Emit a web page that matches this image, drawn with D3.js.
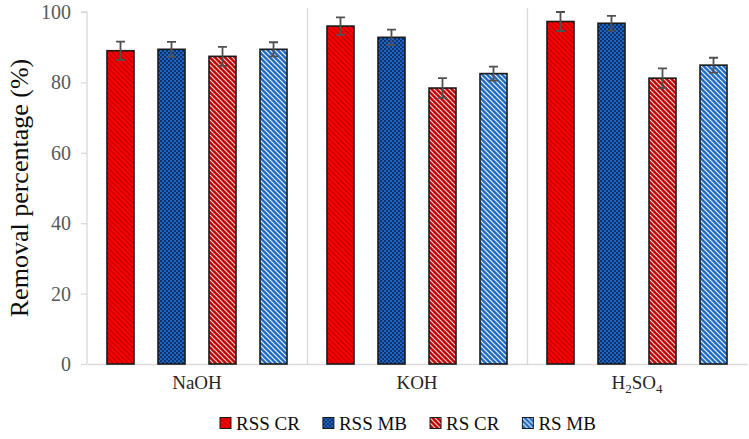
<!DOCTYPE html>
<html>
<head>
<meta charset="utf-8">
<script src="https://cdn.jsdelivr.net/npm/d3@7"></script>
<style>
  html, body { margin: 0; padding: 0; background: #fff; }
  svg { display: block; }
</style>
</head>
<body>
<div id="chart"></div>
<script>
const categories = ["NaOH", "KOH", "H2SO4"];
const seriesNames = ["RSS CR", "RSS MB", "RS CR", "RS MB"];
const rssCR = [89.0, 96.0, 97.3];
const rssMB = [89.4, 92.8, 96.8];
const rsCR  = [87.4, 78.4, 81.2];
const rsMB  = [89.4, 82.5, 84.9];
const rssCRErr = [2.6, 2.5, 2.7];
const rssMBErr = [2.1, 2.2, 2.1];
const rsCRErr  = [2.7, 2.8, 2.8];
const rsMBErr  = [2.0, 2.0, 2.1];
const yTicks = [0, 20, 40, 60, 80, 100];

const seriesValues = [rssCR, rssMB, rsCR, rsMB];
const seriesErrs = [rssCRErr, rssMBErr, rsCRErr, rsMBErr];

const FONT = "'Liberation Serif', 'Times New Roman', serif";
const W = 749, H = 439;
const plot = { left: 87, right: 747, top: 12, bottom: 364 };

const svg = d3.select("#chart").append("svg").attr("width", W).attr("height", H)
  .attr("font-family", FONT);
const defs = svg.append("defs");

function stripePattern(id, bg, fg, size, sw) {
  const p = defs.append("pattern").attr("id", id).attr("patternUnits", "userSpaceOnUse")
    .attr("width", size).attr("height", size);
  p.append("rect").attr("width", size).attr("height", size).attr("fill", bg);
  p.append("path")
    .attr("d", `M0,0 L${size},${size} M${-size/2},${size/2} L${size/2},${size*1.5} M${size/2},${-size/2} L${size*1.5},${size/2}`)
    .attr("stroke", fg).attr("stroke-width", sw).attr("fill", "none");
}
stripePattern("pRssCR", "#ff0000", "#c80000", 5, 1.6);
stripePattern("pRsCR", "#c00000", "#f6dada", 5, 1.2);
stripePattern("pRsMB", "#1f6bc4", "#eef4fb", 5, 1.2);
{
  const p = defs.append("pattern").attr("id", "pRssMB").attr("patternUnits", "userSpaceOnUse")
    .attr("width", 4).attr("height", 4);
  p.append("rect").attr("width", 4).attr("height", 4).attr("fill", "#1e64c0");
  p.append("rect").attr("width", 2).attr("height", 2).attr("fill", "#0c3370");
  p.append("rect").attr("x", 2).attr("y", 2).attr("width", 2).attr("height", 2).attr("fill", "#0c3370");
}
const fills = ["url(#pRssCR)", "url(#pRssMB)", "url(#pRsCR)", "url(#pRsMB)"];

const x0 = d3.scaleBand().domain(categories).range([plot.left, plot.right]).padding(0);
const x1 = d3.scaleBand().domain(seriesNames).range([0, x0.bandwidth()])
  .paddingInner(24 / 51).paddingOuter(0.392);
const y = d3.scaleLinear().domain([0, 100]).range([plot.bottom, plot.top]);

// Category separators
svg.append("g").selectAll("line").data(categories.slice(1)).join("line")
  .attr("x1", d => x0(d) + 0.5).attr("x2", d => x0(d) + 0.5)
  .attr("y1", y(100) - 4).attr("y2", plot.bottom)
  .attr("stroke", "#d9d9d9").attr("stroke-width", 1.3);

// Y axis
const yAxis = d3.axisLeft(y).tickValues(yTicks).tickSize(6).tickPadding(10).tickFormat(d3.format("d"));
const gy = svg.append("g").attr("transform", `translate(${plot.left},0)`).call(yAxis)
  .attr("font-family", FONT);
gy.select(".domain").attr("stroke", "#d9d9d9").attr("stroke-width", 1.3)
  .attr("d", `M-6,${y(100)}H0V${plot.bottom}`);
gy.selectAll(".tick line").attr("stroke", "#d9d9d9").attr("stroke-width", 1.3);
gy.selectAll(".tick text").attr("font-size", 20).attr("fill", "#595959")
  .attr("font-family", FONT);

// X axis
const xAxis = d3.axisBottom(x0).tickSize(0).tickPadding(14).tickFormat("");
const gx = svg.append("g").attr("transform", `translate(0,${plot.bottom})`).call(xAxis)
  .attr("font-family", FONT);
gx.select(".domain").attr("stroke", "#d9d9d9").attr("stroke-width", 1.3);
gx.selectAll(".tick").each(function(d) {
  const t = d3.select(this).append("text").attr("y", 25).attr("text-anchor", "middle")
    .attr("fill", "#262626").attr("font-size", 19).attr("font-family", FONT);
  if (d === "H2SO4") {
    t.append("tspan").text("H");
    t.append("tspan").text("2").attr("font-size", 13).attr("dy", 4);
    t.append("tspan").text("SO").attr("dy", -4);
    t.append("tspan").text("4").attr("font-size", 13).attr("dy", 4);
  } else {
    t.text(d);
  }
});

// Bars
const barData = [];
seriesNames.forEach((s, si) => {
  categories.forEach((c, ci) => {
    barData.push({ s, si, c, v: seriesValues[si][ci], e: seriesErrs[si][ci] });
  });
});
svg.append("g").selectAll("rect").data(barData).join("rect")
  .attr("x", d => x0(d.c) + x1(d.s))
  .attr("y", d => y(d.v))
  .attr("width", x1.bandwidth())
  .attr("height", d => y(0) - y(d.v))
  .attr("fill", d => fills[d.si])
  .attr("stroke", "#1a1a1a").attr("stroke-width", 1.6);

// Error bars
const eg = svg.append("g").attr("stroke", "#505050").attr("stroke-width", 1.8).attr("fill", "none");
eg.selectAll("path").data(barData).join("path")
  .attr("d", d => {
    const cx = x0(d.c) + x1(d.s) + x1.bandwidth() / 2;
    const yt = y(d.v + d.e), yb = y(d.v - d.e);
    return `M${cx},${yt}V${yb}M${cx - 4.5},${yt}H${cx + 4.5}M${cx - 4.5},${yb}H${cx + 4.5}`;
  });

// Y title
svg.append("text")
  .attr("transform", `translate(28,${(plot.top + plot.bottom) / 2}) rotate(-90)`)
  .attr("text-anchor", "middle").attr("font-size", 26).attr("fill", "#0d0d0d")
  .attr("font-family", FONT)
  .text("Removal percentage (%)");

// Legend
const lg = svg.append("g").attr("transform", "translate(220,423)");
let lx = 0;
seriesNames.forEach((s, i) => {
  const g = lg.append("g").attr("transform", `translate(${lx},0)`);
  g.append("rect").attr("x", 0).attr("y", -5.5).attr("width", 11).attr("height", 11)
    .attr("fill", fills[i]).attr("stroke", "#1a1a1a").attr("stroke-width", 1);
  const t = g.append("text").attr("x", 16).attr("y", 6.5).attr("font-size", 19)
    .attr("fill", "#0d0d0d").attr("font-family", FONT).text(s);
  lx += 16 + t.node().getComputedTextLength() + 23;
});
</script>
</body>
</html>
